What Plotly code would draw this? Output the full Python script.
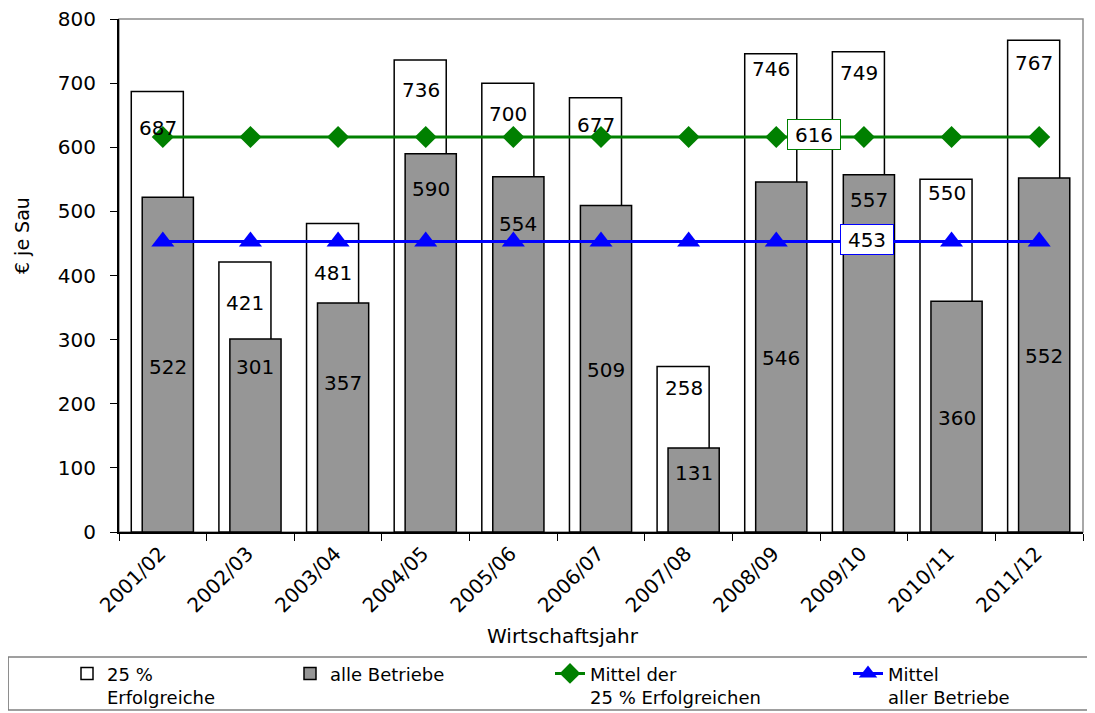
import plotly.graph_objects as go

categories = ["2001/02", "2002/03", "2003/04", "2004/05", "2005/06", "2006/07",
              "2007/08", "2008/09", "2009/10", "2010/11", "2011/12"]
top25 = [687, 421, 481, 736, 700, 677, 258, 746, 749, 550, 767]
alle = [522, 301, 357, 590, 554, 509, 131, 546, 557, 360, 552]
mittel_top25 = [616, 616, 616, 616, 616, 616, 616, 616, 616, 616, 616]
mittel_alle = [453, 453, 453, 453, 453, 453, 453, 453, 453, 453, 453]
y_ticks = [0, 100, 200, 300, 400, 500, 600, 700, 800]

# label placement styling (pixel shifts below bar top)
top25_label_shift = [-37, -41, -49, -30, -31, -27, -21, -15, -21, -14, -23]
alle_label_shift = [-170, -28, -80, -35, -47, -164, -25, -176, -25, -117, -178]

FONT = "DejaVu Sans, Arial, sans-serif"
GREY = "#969696"
GREEN = "#008000"
BLUE = "#0000FF"

fig = go.Figure()
fig.add_trace(go.Bar(
    x=categories, y=top25, name="25 %<br>Erfolgreiche", legend="legend",
    marker=dict(color="white", line=dict(color="black", width=1.5)),
    offset=-0.36, width=0.594,
))
fig.add_trace(go.Bar(
    x=categories, y=alle, name="alle Betriebe", legend="legend2",
    marker=dict(color=GREY, line=dict(color="black", width=1.5)),
    offset=-0.235, width=0.584,
))
fig.add_trace(go.Scatter(
    x=categories, y=mittel_top25, name="Mittel der<br>25 % Erfolgreichen", legend="legend3",
    mode="lines+markers", line=dict(color=GREEN, width=3),
    marker=dict(symbol="diamond", size=17, color=GREEN),
))
fig.add_trace(go.Scatter(
    x=categories, y=mittel_alle, name="Mittel<br>aller Betriebe", legend="legend4",
    mode="lines+markers", line=dict(color=BLUE, width=3),
    marker=dict(symbol="triangle-up", size=20, color=BLUE),
))

lab_font = dict(size=20, color="black", family=FONT)
annotations = []
for c, v, s in zip(categories, top25, top25_label_shift):
    annotations.append(dict(x=c, y=v, text=str(v), showarrow=False, xshift=-5,
                            yshift=s, font=lab_font))
for c, v, s in zip(categories, alle, alle_label_shift):
    annotations.append(dict(x=c, y=v, text=str(v), showarrow=False, xshift=5,
                            yshift=s, font=lab_font))
annotations.append(dict(x=7.5, y=mittel_top25[7], text=str(mittel_top25[7]), showarrow=False,
                        xshift=-6, yshift=2, bgcolor="white", bordercolor=GREEN, borderwidth=1,
                        borderpad=2, width=48, height=25, font=lab_font))
annotations.append(dict(x=8, y=mittel_alle[8], text=str(mittel_alle[8]), showarrow=False,
                        xshift=3, yshift=2, bgcolor="white", bordercolor=BLUE, borderwidth=1,
                        borderpad=2, width=48, height=25, font=lab_font))
# axis titles
annotations.append(dict(x=-0.1006, y=0.577, xref="paper", yref="paper", text="€ je Sau",
                        textangle=-90, showarrow=False, xanchor="center", yanchor="middle",
                        font=dict(size=19, color="black", family=FONT)))
annotations.append(dict(x=0.4606, y=-0.2027, xref="paper", yref="paper", text="Wirtschaftsjahr",
                        showarrow=False, xanchor="center", yanchor="middle",
                        font=dict(size=20, color="black", family=FONT)))

shapes = [
    dict(type="rect", xref="paper", yref="paper", x0=0, x1=1, y0=0, y1=1,
         line=dict(color="#8c8c8c", width=1.5), layer="below"),
    dict(type="rect", xref="paper", yref="paper", x0=-0.115, x1=1.007, y0=-0.2437, y1=-0.347,
         line=dict(color="#808080", width=1.5), layer="below"),
]

leg_common = dict(orientation="h", xanchor="left", yanchor="top", y=-0.2403,
                  font=dict(size=18, family=FONT, color="black"), valign="top",
                  bgcolor="rgba(0,0,0,0)", borderwidth=0)

def px_to_paper(px):
    return (px - 119) / 964.0

fig.update_layout(
    width=1087, height=705,
    margin=dict(l=111, r=12, t=11, b=181, autoexpand=False),
    paper_bgcolor="white", plot_bgcolor="white",
    barmode="overlay",
    font=dict(family=FONT, size=20, color="black"),
    showlegend=True,
    legend=dict(x=px_to_paper(107 - 40), **leg_common),
    legend2=dict(x=px_to_paper(330 - 40), **leg_common),
    legend3=dict(x=px_to_paper(590 - 40), **leg_common),
    legend4=dict(x=px_to_paper(888 - 40), **leg_common),
    annotations=annotations,
    shapes=shapes,
)
fig.update_xaxes(
    type="category", range=[-0.5, len(categories) - 0.5],
    tickson="boundaries", ticks="outside", ticklen=7, tickcolor="black",
    showline=True, linecolor="black", linewidth=2, tickangle=-45, automargin=False,
    tickfont=dict(size=20, family=FONT), ticklabelshift=-3,
    showgrid=False,
)
fig.update_yaxes(
    range=[0, 800], tickvals=y_ticks, ticks="outside", ticklen=7, tickcolor="black",
    showline=True, linecolor="black", linewidth=2, showgrid=False, zeroline=False,
    automargin=False, tickfont=dict(size=20, family=FONT), ticklabelstandoff=10,
    ticklabeloverflow="allow",
)

fig.write_html("out.html")
